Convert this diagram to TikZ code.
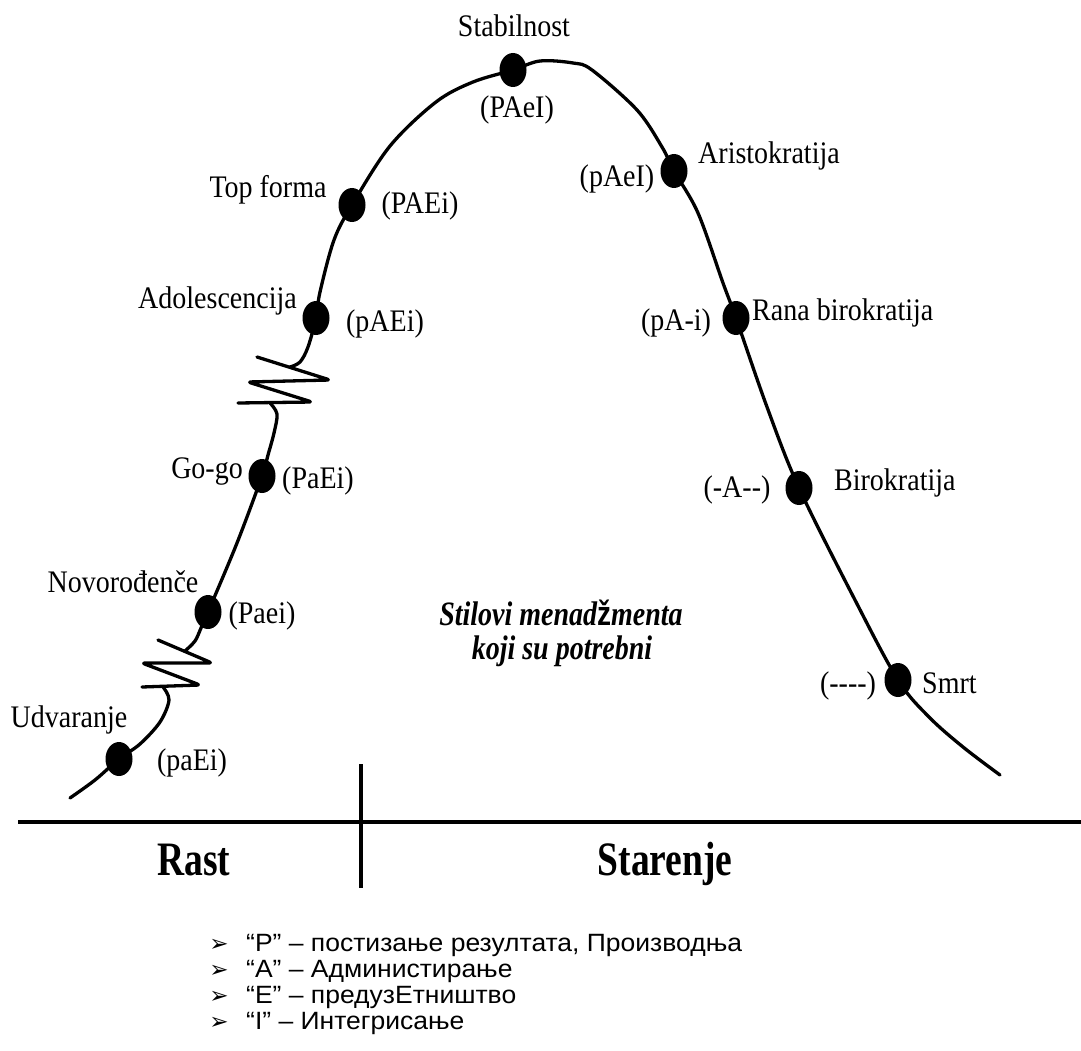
\documentclass[tikz,border=0pt]{standalone}
\usepackage{fontspec}
\usepackage{graphicx}
\setmainfont{Liberation Serif}
\newfontfamily\arialf{Liberation Sans}
\newfontfamily\djv{DejaVu Sans}
\newcommand\vst[2][1.12]{\scalebox{1}[#1]{#2}}
\newcommand\hst[1]{\scalebox{1.06}[1]{#1}}
\usetikzlibrary{shapes.geometric}
\begin{document}
\begin{tikzpicture}[x=1pt,y=-1pt,
  lbl/.style={font=\fontsize{28}{30}\selectfont, inner sep=0pt, anchor=base},
  bigbold/.style={font=\fontsize{37.5}{40}\selectfont\bfseries, inner sep=0pt, anchor=base},
  legend/.style={font=\arialf\fontsize{25}{27}\selectfont, inner sep=0pt, anchor=base west},
  arrowmark/.style={font=\djv\fontsize{23}{25}\selectfont, inner sep=0pt, anchor=base},
  dotnode/.style={ellipse, fill=black, minimum width=27pt, minimum height=34pt, inner sep=0pt},
  curve/.style={line width=3.3pt, line cap=round, line join=round},
  spring/.style={line width=3.3pt, line cap=round, line join=round, rounded corners=3pt},
  axis/.style={line width=4.5pt}]
\useasboundingbox (0,0) rectangle (1081,1051);

% stage points
\coordinate (cUdv)  at (119,759);
\coordinate (cNovo) at (208,612);
\coordinate (cGogo) at (262,476);
\coordinate (cAdol) at (316,318);
\coordinate (cTop)  at (352,205);
\coordinate (cStab) at (513,70);
\coordinate (cAri)  at (674,171);
\coordinate (cRana) at (736,318);
\coordinate (cBiro) at (799,488);
\coordinate (cSmrt) at (898,680);

% lower spring
\coordinate (ls1) at (158,640);
\coordinate (ls2) at (212,663);
\coordinate (ls3) at (142,663);
\coordinate (ls4) at (200,685);
\coordinate (ls5) at (142,687);
\coordinate (lsTop) at (185,651);
\coordinate (lsBot) at (163,687);
% upper spring
\coordinate (us1) at (257,357);
\coordinate (us2) at (330,380);
\coordinate (us3) at (248,382);
\coordinate (us4) at (312,402);
\coordinate (us5) at (238,403);
\coordinate (usTop) at (290,367);
\coordinate (usBot) at (270,403);
\coordinate (cStart) at (70,798);
\coordinate (cEnd) at (1000,775);

% life-cycle curve
\draw[curve] plot[smooth, tension=0.55] coordinates {(cStart) (95,780) (cUdv) (140,744) (160,722) (169,700) (lsBot)};
\draw[spring] (ls1) -- (ls2) -- (ls3) -- (ls4) -- (ls5);
\draw[curve] plot[smooth, tension=0.55] coordinates {(lsTop) (195,641) (201,628) (cNovo) (237,543) (cGogo) (268,455) (274,433) (277,414) (usBot)};
\draw[spring] (us1) -- (us2) -- (us3) -- (us4) -- (us5);
\draw[curve] plot[smooth, tension=0.55] coordinates {(usTop) (300,362) (308,347) (cAdol) (320,292) (334,240) (cTop) (390,146) (436,102) (473,82) (cStab) (540,61) (573,63) (592,70) (637,110) (662,147) (cAri) (698,213) (723,283) (cRana) (767,407) (cBiro) (855,600) (cSmrt) (929,717) (963,747) (cEnd)};

% dots
\foreach \p in {Udv,Novo,Gogo,Adol,Top,Stab,Ari,Rana,Biro,Smrt}
  \node[dotnode] (d\p) at (c\p) {};

% stage labels
\node[lbl] (tStab) at (514,37) {\vst{Stabilnost}};
\node[lbl] (sStab) at (517,118) {\vst{(PAeI)}};
\node[lbl] (tTop) at (268,198) {\vst{Top forma}};
\node[lbl] (sTop) at (420,213) {\vst{(PAEi)}};
\node[lbl, anchor=base east] (tAdol) at (297,308) {\vst{Adolescencija}};
\node[lbl] (sAdol) at (385,331) {\vst{(pAEi)}};
\node[lbl, anchor=base east] (tGogo) at (243,478) {\vst{Go-go}};
\node[lbl] (sGogo) at (318,488) {\vst{(PaEi)}};
\node[lbl] (tNovo) at (123,592) {\vst{Novorođenče}};
\node[lbl] (sNovo) at (262,623) {\vst{(Paei)}};
\node[lbl] (tUdv) at (69,727) {\vst{Udvaranje}};
\node[lbl] (sUdv) at (192,770) {\vst{(paEi)}};
\node[lbl] (sAri) at (617,187) {\vst{(pAeI)}};
\node[lbl, anchor=base west] (tAri) at (698,164) {\vst{Aristokratija}};
\node[lbl, anchor=base west] (tRana) at (752,320) {\vst{Rana birokratija}};
\node[lbl] (sRana) at (676,330) {\vst{(pA-i)}};
\node[lbl, anchor=base west] (tBiro) at (834,490) {\vst{Birokratija}};
\node[lbl] (sBiro) at (737,497) {\vst{(-A-\kern0pt-)}};
\node[lbl, anchor=base west] (tSmrt) at (922,693) {\vst{Smrt}};
\node[lbl] (sSmrt) at (848,693) {\vst{(-\kern0pt-\kern0pt-\kern0pt-)}};

% centre note
\node[lbl, font=\fontsize{28}{30}\selectfont\bfseries\itshape] (note1) at (561,625) {\vst[1.22]{Stilovi menad{\arialf\bfseries\upshape ž}menta}};
\node[lbl, font=\fontsize{28}{30}\selectfont\bfseries\itshape] (note2) at (562,659) {\vst[1.22]{koji su potrebni}};

% axes
\coordinate (hL) at (18,822);
\coordinate (hR) at (1081,822);
\coordinate (vT) at (361,764);
\coordinate (vB) at (361,888);
\draw[axis] (hL) -- (hR);
\draw[axis] (vT) -- (vB);
\node[bigbold] (rast) at (194,875) {\vst[1.28]{Rast}};
\node[bigbold] (star) at (665,875) {\vst[1.28]{Starenje}};

% legend
\foreach \i/\y/\t in {1/951/{“P” – постизање резултата, Производња},
                      2/977/{“A” – Администирање},
                      3/1003/{“E” – предузЕтништво},
                      4/1029/{“I” – Интегрисање}}{
  \node[arrowmark] (b\i) at (219,\y) {➢};
  \node[legend] (l\i) at (246,\y) {\hst{\t}};
}
\end{tikzpicture}
\end{document}
